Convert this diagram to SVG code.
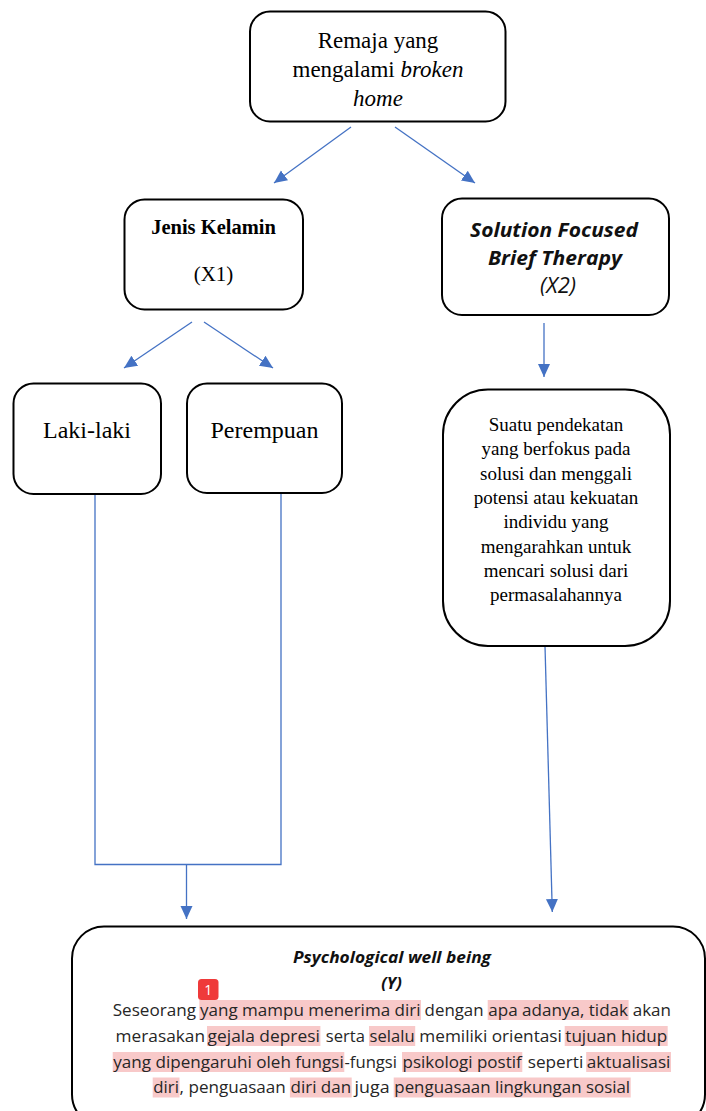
<svg xmlns="http://www.w3.org/2000/svg" width="706" height="1111" viewBox="0 0 706 1111">
<style>
.box{fill:#fff;stroke:#000;stroke-width:2}
.con{fill:none;stroke:#4472c4;stroke-width:1.3}
.serif{font-family:"Liberation Serif","Times New Roman",serif;fill:#000;text-anchor:middle}
.cal{font-family:"Open Sans","Noto Sans",sans-serif;fill:#111}
.body{font-family:"Open Sans","Noto Sans",sans-serif;font-size:17px;fill:#262626}
.hl{fill:#f8c9c9}
</style>
<defs>
<marker id="ah" markerUnits="userSpaceOnUse" markerWidth="14" markerHeight="14" viewBox="0 0 14 14" refX="13" refY="7" orient="auto">
<path d="M0,1 L13,7 L0,13 Z" fill="#4472c4"/>
</marker>
</defs>

<g id="connectors">
<line class="con" x1="351" y1="127" x2="274" y2="183" marker-end="url(#ah)"/>
<line class="con" x1="395" y1="127" x2="475" y2="183" marker-end="url(#ah)"/>
<line class="con" x1="192" y1="322" x2="124" y2="368" marker-end="url(#ah)"/>
<line class="con" x1="204" y1="322" x2="273" y2="368" marker-end="url(#ah)"/>
<line class="con" x1="544" y1="323" x2="544" y2="377" marker-end="url(#ah)"/>
<polyline class="con" points="95,494 95,864.5 281,864.5 281,493"/>
<line class="con" x1="186.5" y1="864.5" x2="186.5" y2="919" marker-end="url(#ah)"/>
<line class="con" x1="545" y1="646" x2="552.3" y2="912" marker-end="url(#ah)"/>
</g>

<g id="node-remaja">
<rect class="box" x="250" y="11.5" width="255.5" height="110" rx="20"/>
<text class="serif" font-size="23" x="378" y="48">Remaja yang</text>
<text class="serif" font-size="23" x="378" y="77">mengalami <tspan font-style="italic">broken</tspan></text>
<text class="serif" font-size="23" x="378" y="106" font-style="italic">home</text>
</g>

<g id="node-jenis">
<rect class="box" x="124.5" y="199.5" width="178.5" height="110" rx="20"/>
<text class="serif" font-size="20.5" font-weight="bold" x="213.5" y="234">Jenis Kelamin</text>
<text class="serif" font-size="21" x="213.5" y="281">(X1)</text>
</g>

<g id="node-sfbt">
<rect class="box" x="442" y="198.5" width="227" height="116.5" rx="20"/>
<text class="cal" font-size="20" font-weight="bold" font-style="italic" x="470" y="237" textLength="168" lengthAdjust="spacingAndGlyphs">Solution Focused</text>
<text class="cal" font-size="20" font-weight="bold" font-style="italic" x="488" y="265" textLength="134" lengthAdjust="spacingAndGlyphs">Brief Therapy</text>
<text class="cal" font-size="21" font-style="italic" x="540" y="293" textLength="36" lengthAdjust="spacingAndGlyphs">(X2)</text>
</g>

<g id="node-laki">
<rect class="box" x="13.5" y="383.5" width="147.5" height="110.5" rx="20"/>
<text class="serif" font-size="24" x="87" y="438">Laki-laki</text>
</g>

<g id="node-perempuan">
<rect class="box" x="187" y="383.5" width="155" height="109.5" rx="20"/>
<text class="serif" font-size="24" x="264.5" y="438">Perempuan</text>
</g>

<g id="node-suatu">
<rect class="box" x="443" y="389.5" width="227" height="256.5" rx="45"/>
<text class="serif" font-size="19" x="556" y="431">Suatu pendekatan</text>
<text class="serif" font-size="19" x="556" y="455.3">yang berfokus pada</text>
<text class="serif" font-size="19" x="556" y="479.6">solusi dan menggali</text>
<text class="serif" font-size="19" x="556" y="503.9">potensi atau kekuatan</text>
<text class="serif" font-size="19" x="556" y="528.2">individu yang</text>
<text class="serif" font-size="19" x="556" y="552.5">mengarahkan untuk</text>
<text class="serif" font-size="19" x="556" y="576.8">mencari solusi dari</text>
<text class="serif" font-size="19" x="556" y="601.1">permasalahannya</text>
</g>

<g id="node-pwb">
<rect class="box" x="72" y="926.5" width="633" height="200" rx="32"/>
<text class="cal" font-size="16.5" font-weight="bold" font-style="italic" x="293" y="963" textLength="198" lengthAdjust="spacingAndGlyphs">Psychological well being</text>
<text class="cal" font-size="16.5" font-weight="bold" font-style="italic" x="391.5" y="989" text-anchor="middle">(Y)</text>

<rect class="hl" x="199.3" y="1000" width="221.7" height="20"/>
<rect class="hl" x="487.7" y="1000" width="140.9" height="20"/>
<rect class="hl" x="207" y="1026" width="113.4" height="20"/>
<rect class="hl" x="369" y="1026" width="46.2" height="20"/>
<rect class="hl" x="564.7" y="1026" width="103" height="20"/>
<rect class="hl" x="112.7" y="1052" width="231.6" height="20"/>
<rect class="hl" x="402" y="1052" width="120.3" height="20"/>
<rect class="hl" x="586.2" y="1052" width="84.8" height="20"/>
<rect class="hl" x="152.7" y="1077.5" width="26.8" height="20"/>
<rect class="hl" x="289.9" y="1077.5" width="61.8" height="20"/>
<rect class="hl" x="393.7" y="1077.5" width="237" height="20"/>

<text class="body" x="112.7" y="1015.5" textLength="83.3" lengthAdjust="spacingAndGlyphs">Seseorang</text>
<text class="body" x="200" y="1015.5" textLength="220.5" lengthAdjust="spacingAndGlyphs">yang mampu menerima diri</text>
<text class="body" x="424.6" y="1015.5" textLength="59" lengthAdjust="spacingAndGlyphs">dengan</text>
<text class="body" x="488.3" y="1015.5" textLength="139.7" lengthAdjust="spacingAndGlyphs">apa adanya, tidak</text>
<text class="body" x="632.7" y="1015.5" textLength="38.3" lengthAdjust="spacingAndGlyphs">akan</text>

<text class="body" x="115.6" y="1041.5" textLength="89.4" lengthAdjust="spacingAndGlyphs">merasakan</text>
<text class="body" x="207.6" y="1041.5" textLength="112.2" lengthAdjust="spacingAndGlyphs">gejala depresi</text>
<text class="body" x="325.8" y="1041.5" textLength="39.1" lengthAdjust="spacingAndGlyphs">serta</text>
<text class="body" x="369.6" y="1041.5" textLength="45" lengthAdjust="spacingAndGlyphs">selalu</text>
<text class="body" x="419.3" y="1041.5" textLength="142.6" lengthAdjust="spacingAndGlyphs">memiliki orientasi</text>
<text class="body" x="565.3" y="1041.5" textLength="101.8" lengthAdjust="spacingAndGlyphs">tujuan hidup</text>

<text class="body" x="113.3" y="1067.5" textLength="230.4" lengthAdjust="spacingAndGlyphs">yang dipengaruhi oleh fungsi</text>
<text class="body" x="344.5" y="1067.5" textLength="52.5" lengthAdjust="spacingAndGlyphs">-fungsi</text>
<text class="body" x="402.6" y="1067.5" textLength="119.1" lengthAdjust="spacingAndGlyphs">psikologi postif</text>
<text class="body" x="527.7" y="1067.5" textLength="55.6" lengthAdjust="spacingAndGlyphs">seperti</text>
<text class="body" x="586.8" y="1067.5" textLength="83.6" lengthAdjust="spacingAndGlyphs">aktualisasi</text>

<text class="body" x="153.3" y="1093" textLength="25.6" lengthAdjust="spacingAndGlyphs">diri</text>
<text class="body" x="179.6" y="1093" textLength="106.2" lengthAdjust="spacingAndGlyphs">, penguasaan</text>
<text class="body" x="290.5" y="1093" textLength="60.6" lengthAdjust="spacingAndGlyphs">diri dan</text>
<text class="body" x="354.6" y="1093" textLength="35" lengthAdjust="spacingAndGlyphs">juga</text>
<text class="body" x="394.3" y="1093" textLength="235.8" lengthAdjust="spacingAndGlyphs">penguasaan lingkungan sosial</text>

<rect x="198" y="979" width="20.5" height="21" rx="3.5" fill="#ef3a3a"/>
<text x="208.2" y="995" font-family="Open Sans,Noto Sans,sans-serif" font-size="14" fill="#fff" text-anchor="middle">1</text>
</g>
</svg>
